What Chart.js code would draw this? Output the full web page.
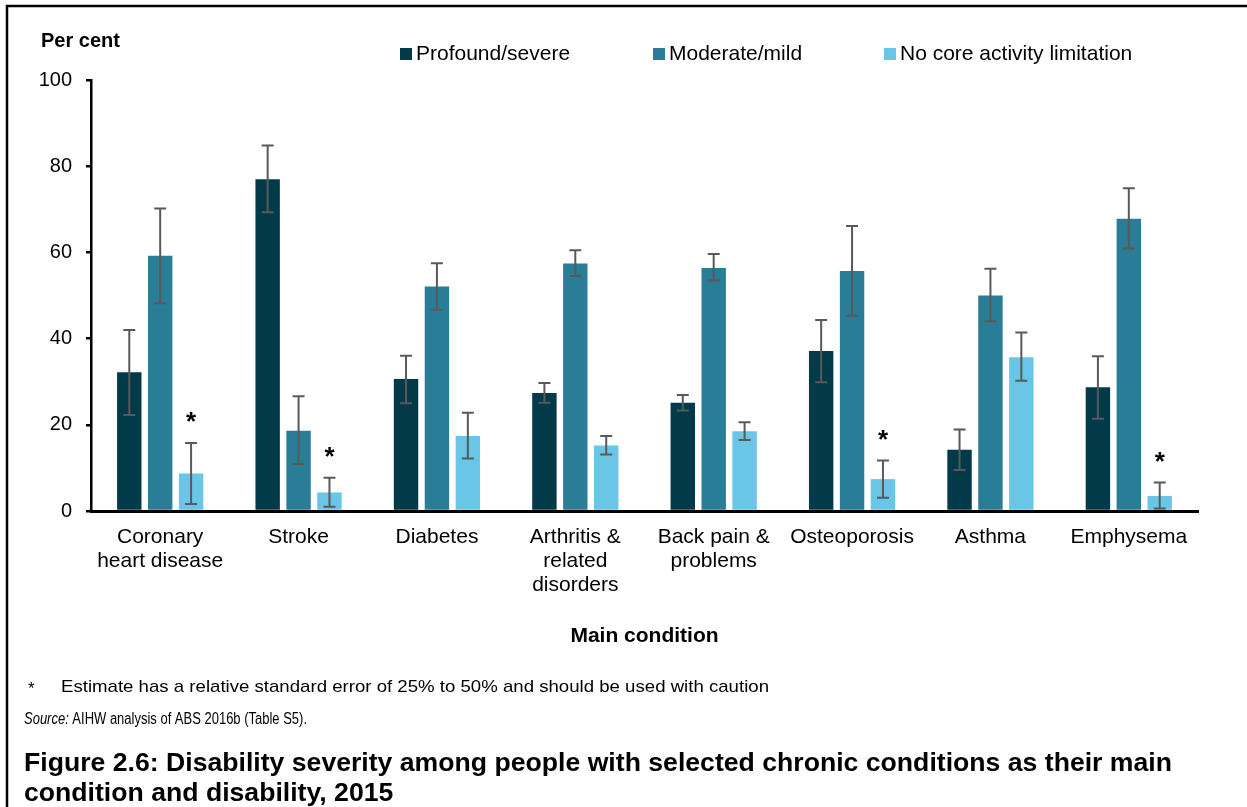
<!DOCTYPE html>
<html>
<head>
<meta charset="utf-8">
<script src="https://cdn.jsdelivr.net/npm/chart.js@4/dist/chart.umd.min.js"></script>
<style>
  html, body { margin: 0; padding: 0; background: #ffffff; }
  #wrap { width: 1247px; height: 807px; position: relative; }
</style>
</head>
<body>
<div id="wrap"><canvas id="c" width="1247" height="807"></canvas></div>
<script>
// Main conditions (x categories)
const categories = [
  ['Coronary', 'heart disease'],
  'Stroke',
  'Diabetes',
  ['Arthritis &', 'related', 'disorders'],
  ['Back pain &', 'problems'],
  'Osteoporosis',
  'Asthma',
  'Emphysema'
];

// Per cent with disability severity, and 95% confidence bounds
const profound     = [32.2, 77.0, 30.6, 27.4, 25.1, 37.1, 14.2, 28.7];
const profoundLow  = [22.3, 69.3, 25.0, 25.1, 23.3, 29.9,  9.5, 21.4];
const profoundHigh = [42.0, 84.8, 36.0, 29.7, 26.9, 44.3, 18.9, 35.9];

const moderate     = [59.2, 18.6, 52.1, 57.4, 56.4, 55.7, 50.0, 67.8];
const moderateLow  = [48.2, 10.9, 46.7, 54.5, 53.5, 45.3, 44.0, 60.9];
const moderateHigh = [70.2, 26.6, 57.5, 60.5, 59.6, 66.1, 56.2, 74.9];

const noLimit      = [ 8.7,  4.3, 17.4, 15.2, 18.5,  7.4, 35.7,  3.5];
const noLimitLow   = [ 1.6,  1.0, 12.2, 13.1, 16.5,  3.1, 30.2,  0.6];
const noLimitHigh  = [15.8,  7.7, 22.8, 17.4, 20.6, 11.7, 41.4,  6.6];
// Estimates with a relative standard error of 25% to 50%
const noLimitRse   = [true, true, false, false, false, true, false, true];

const yTicks = [0, 20, 40, 60, 80, 100];

const seriesNames = ['Profound/severe', 'Moderate/mild', 'No core activity limitation'];
const seriesColors = ['#033a4a', '#2a7d97', '#69c6e6'];

const FONT = '"Liberation Sans", Arial, Helvetica, sans-serif';

// Error bars and caution markers drawn on top of each bar
const errorBars = {
  id: 'errorBars',
  afterDatasetsDraw(chart) {
    const ctx = chart.ctx;
    const y = chart.scales.y;
    ctx.save();
    chart.data.datasets.forEach((ds, i) => {
      const meta = chart.getDatasetMeta(i);
      meta.data.forEach((bar, j) => {
        const x = bar.x;
        const yHi = y.getPixelForValue(ds.errHigh[j]);
        const yLo = y.getPixelForValue(ds.errLow[j]);
        ctx.strokeStyle = '#595959';
        ctx.lineWidth = 2;
        ctx.beginPath();
        ctx.moveTo(x, yHi); ctx.lineTo(x, yLo);
        ctx.moveTo(x - 6, yHi); ctx.lineTo(x + 6, yHi);
        ctx.moveTo(x - 6, yLo); ctx.lineTo(x + 6, yLo);
        ctx.stroke();
        if (ds.rse && ds.rse[j]) {
          ctx.fillStyle = '#000000';
          ctx.font = 'bold 26px ' + FONT;
          ctx.textAlign = 'center';
          ctx.textBaseline = 'alphabetic';
          ctx.fillText('*', x, yHi - 24 + 11);
        }
      });
    });
    ctx.restore();
  }
};

// Writes text left-aligned, scaled horizontally to a given width
function fitText(ctx, text, x, y, width) {
  const m = ctx.measureText(text).width;
  ctx.save();
  ctx.translate(x, y);
  ctx.scale(width / m, 1);
  ctx.fillText(text, 0, 0);
  ctx.restore();
}

// Frame, axis titles, legend, notes and figure caption
const decorations = {
  id: 'decorations',
  afterDraw(chart) {
    const ctx = chart.ctx;
    const area = chart.chartArea;
    ctx.save();

    // frame
    ctx.strokeStyle = '#000000';
    ctx.lineWidth = 2.5;
    ctx.beginPath();
    ctx.moveTo(7, 820); ctx.lineTo(7, 6); ctx.lineTo(1260, 6);
    ctx.stroke();

    ctx.fillStyle = '#000000';
    ctx.textBaseline = 'middle';

    // y axis title
    ctx.textAlign = 'left';
    ctx.font = 'bold 20px ' + FONT;
    ctx.fillText('Per cent', 41, 41);

    // legend
    const legendX = [400, 653, 884];
    ctx.font = '21px ' + FONT;
    chart.data.datasets.forEach((ds, i) => {
      ctx.fillStyle = ds.backgroundColor;
      ctx.fillRect(legendX[i], 48, 12, 12);
      ctx.fillStyle = '#000000';
      ctx.fillText(ds.label, legendX[i] + 16, 54);
    });

    // x axis title
    ctx.textAlign = 'center';
    ctx.font = 'bold 21px ' + FONT;
    ctx.fillText('Main condition', (area.left + area.right) / 2, 636);

    // notes
    ctx.textAlign = 'left';
    ctx.textBaseline = 'alphabetic';
    ctx.font = '17px ' + FONT;
    ctx.fillText('*', 28, 694);
    fitText(ctx, 'Estimate has a relative standard error of 25% to 50% and should be used with caution', 61, 692, 708);

    // source line, condensed to its column width
    ctx.font = 'italic 16px ' + FONT;
    const wSrc = ctx.measureText('Source: ').width;
    ctx.font = '16px ' + FONT;
    const wRest = ctx.measureText('AIHW analysis of ABS 2016b (Table S5).').width;
    const k = 283 / (wSrc + wRest);
    ctx.save();
    ctx.translate(24, 724);
    ctx.scale(k, 1);
    ctx.font = 'italic 16px ' + FONT;
    ctx.fillText('Source:', 0, 0);
    ctx.font = '16px ' + FONT;
    ctx.fillText('AIHW analysis of ABS 2016b (Table S5).', wSrc, 0);
    ctx.restore();

    // caption
    const cap1 = 'Figure 2.6: Disability severity among people with selected chronic conditions as their main';
    ctx.font = 'bold 25px ' + FONT;
    const s = 1148 / ctx.measureText(cap1).width;
    ctx.save();
    ctx.translate(24, 771);
    ctx.scale(s, 1);
    ctx.fillText(cap1, 0, 0);
    ctx.fillText('condition and disability, 2015', 0, 30);
    ctx.restore();

    ctx.restore();
  }
};

const mk = (i, data, lo, hi, rse) => ({
  label: seriesNames[i],
  data: data,
  errLow: lo,
  errHigh: hi,
  rse: rse,
  backgroundColor: seriesColors[i],
  borderWidth: 0,
  barPercentage: 0.79,
  categoryPercentage: 0.67
});

new Chart(document.getElementById('c'), {
  type: 'bar',
  data: {
    labels: categories,
    datasets: [
      mk(0, profound, profoundLow, profoundHigh, null),
      mk(1, moderate, moderateLow, moderateHigh, null),
      mk(2, noLimit, noLimitLow, noLimitHigh, noLimitRse)
    ]
  },
  options: {
    responsive: false,
    animation: false,
    devicePixelRatio: 1,
    layout: { padding: { left: 0, right: 49, top: 80, bottom: 0 } },
    plugins: {
      legend: { display: false },
      tooltip: { enabled: false },
      title: { display: false }
    },
    scales: {
      x: {
        afterFit(scale) { scale.height = 296; },
        grid: { display: false, drawTicks: false },
        border: { display: true, color: '#000000', width: 3 },
        ticks: {
          color: '#000000',
          padding: 14,
          maxRotation: 0,
          autoSkip: false,
          font: { family: FONT, size: 21, lineHeight: 1.15 }
        }
      },
      y: {
        min: 0,
        max: 100,
        afterFit(scale) { scale.width = 91; },
        afterBuildTicks(scale) { scale.ticks = yTicks.map(v => ({ value: v })); },
        grid: {
          drawOnChartArea: false,
          drawTicks: true,
          tickLength: 5,
          color: '#000000',
          lineWidth: 2.5
        },
        border: { display: true, color: '#000000', width: 2.5 },
        ticks: {
          color: '#000000',
          padding: 14,
          font: { family: FONT, size: 20 }
        }
      }
    }
  },
  plugins: [errorBars, decorations]
});
</script>
</body>
</html>
